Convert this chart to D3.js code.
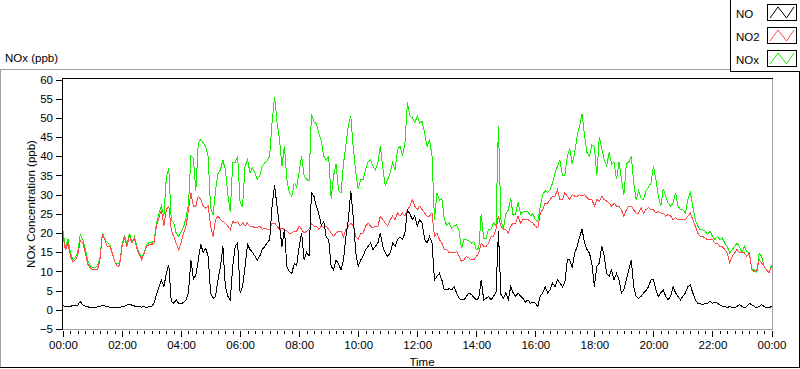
<!DOCTYPE html>
<html><head><meta charset="utf-8">
<script src="https://cdn.jsdelivr.net/npm/d3@7"></script>
<style>
html,body{margin:0;padding:0;background:#fff;}
svg{display:block;}
text{font-family:"Liberation Sans",Arial,sans-serif;font-size:11.5px;fill:#000;}
</style></head>
<body>
<svg id="chart" width="800" height="369"></svg>
<script>
// ---- data (5-minute samples, 00:00 to 24:00) ----
const stepMinutes = 5;
const seriesNames = ["NO", "NO2", "NOx"];
const seriesColors = ["#000000", "#ff4848", "#12f000"];
const yTicks = [-5,0,5,10,15,20,25,30,35,40,45,50,55,60];
const xTickMinutes = [0,120,240,360,480,600,720,840,960,1080,1200,1320,1440];
const xTickLabels = ["00:00","02:00","04:00","06:00","08:00","10:00","12:00","14:00","16:00","18:00","20:00","22:00","00:00"];

const NO2 = [
19,15.5,17.5,14,12.5,13,14,18,17.5,15,12,11,
10.4,10.5,10.4,13,19.5,18.3,16.5,16.5,14.8,12.6,11.3,11.5,
16.5,18.7,16.5,19.1,17.4,18.7,16,14.4,13,14.8,16.5,17,
17,17.4,21.8,23.9,26.1,21.8,26.1,27,20.9,19.1,17.4,15.7,
17.4,20,21.8,26,30.5,27,27,29.6,28.7,27,26.5,27,
21.8,19.1,23.5,24.4,23.5,23,22.6,21.8,20.9,23,22.6,23,
21.8,22.6,21.8,22.6,21.8,21.8,21.3,21.5,21.8,21,21.3,21,
20.9,22.6,22.6,21.8,20.9,21.3,20.9,20.5,20,20,20.5,20.5,
21.8,21,20,20.5,21,22.5,21.8,21.8,21,21.8,21.5,21.8,
21,20,19.1,20,20.5,20.5,19.1,20.9,21.8,22.6,21.8,19.1,
18.3,20,20,21.8,22.6,21.8,21.3,21.8,21.8,24.4,23.5,22.6,
21.8,23.5,24.4,23.5,25.2,24.4,25.2,24.4,26.1,27,28.7,27,
26.1,27,26.1,25.2,24.4,24.4,25.2,19.1,20,18.3,17.4,15.7,
15.7,14.8,14.8,14.8,15.2,13.9,12.6,13,13.9,13.5,13,13,
13.9,14.8,17.4,16.5,16.5,17.4,19.1,19.1,20.9,24.4,21.8,20.9,
20.9,20,21.8,22.6,22.6,24.4,22.6,23.5,23.5,23.5,23,22.6,
21.8,21.3,25.2,26.1,27.8,27.8,28.7,29.6,29.6,31.3,28.7,28.7,
30.5,29.6,28.7,30,29.6,29.6,30,29.6,30,29.2,28.7,28.7,
27,28.7,28.3,29.6,28.7,28.3,27.8,27,27.8,27,27,26,
24.4,26.1,27,27,26,25.2,25.2,26.6,25.2,26.1,26.6,26.1,
26.1,25.2,25.6,25.2,25.2,24.4,24.8,24.4,23.5,24,23.5,23.5,
23.5,23.5,24.4,25.2,23.5,21.8,20,19.1,19.1,18.7,18.3,18.3,
18.3,17.4,17.4,16.5,16.5,15.7,14.8,12.2,13.9,14.8,15.7,14.8,
14.8,14.8,13.9,14.8,10.4,10,10.4,13,12.2,11.3,10.4,9.6,11.3
];

const NOx = [
20.5,16,18.5,15,13,13.5,15,19.5,18.5,16,13,11.5,
11,11,11.5,13.5,20,18.5,17.5,17,15,12.5,12,12,
17,19.5,17,20,17.5,19,16.5,14.8,13.5,15,17,17.5,
17.4,18,22.6,25.2,27,24.4,34.4,36.9,23.5,22.6,20,19.1,
20.4,21.5,24,27.5,40,39.5,31,43.5,44.4,43.5,42.5,40,
26.6,24.7,31,35.5,36.5,39,36.5,30,25.6,38.5,38.5,40,
27.8,27,37.4,39.2,35.7,37,35.7,34,35,37.4,38.3,38.8,
40,49,55.5,49,44.4,37.4,42.6,34,30.5,29.6,33,32,
36,40,35,34,33.5,51,49,48.5,46,44,40,39,
40,29,35,38,31,30.5,38,43,48,50.5,42,36,
31.4,34,34,36.5,38.5,39,37.4,36.5,38.3,42.6,37,32.3,
34,35.7,38.3,36.5,41.8,42.6,40,43.5,54,50.5,50,48.7,
50.5,48.7,49,46,42.6,44.4,40,23.5,30.5,28.5,29,23.5,
22,22.6,21.3,21.8,22.2,20.5,16,18.3,18.3,18,17.4,17.8,
15.7,16,25,18.5,18.5,21,21,22.6,22,48,23.5,20.9,
25,26,29,24.5,25,28,25,25.5,25.5,25.5,24.5,25,
23.5,23,27,30,31,30.5,31.3,33,35.7,37.4,39,35,
35,40,42,38,41,45.3,48,51,45.5,41,40,43,
42.6,35,45,42,39,37.5,41,38,38.5,34,38.5,34,
30,38,38.5,40,33,28.7,31,29,28.7,31,32,33,
37.5,34,29.6,27,31.5,29.6,27.8,27,27.8,30.5,27,26.1,
26.1,25.2,28.7,30.5,27,23.5,21.8,20.9,20.9,20.5,19.6,20.5,
19.1,18.3,19.1,18.3,18.7,17.4,16.5,14.8,15.7,16.5,17.4,16.5,
14.8,16.5,15.2,14.8,10.4,10.4,9.6,14.8,13.9,11.3,10.4,9.6,11.7
];

const NO = [
1.2,0.8,1,0.9,1.1,1.0,1.2,2.2,1.3,1.0,0.8,0.6,
0.7,0.5,0.8,0.9,1.2,1.0,0.9,0.6,0.5,0.6,0.5,0.6,
0.8,0.9,1.2,1.5,1.2,1.0,0.8,0.9,0.7,0.8,0.6,0.8,
0.9,1.7,4,6,7.8,6,9.5,11.7,2.2,1.7,2.6,1.7,
1.5,2,2.5,4.5,13,8,9,13,17,15,16,14,
4.4,3,3.5,7.8,11.3,16.5,6,3.5,2.6,11.3,16.5,17.4,
4.4,6,11.3,17,15.7,15,14,13,14,15.7,16.5,17.4,
18.3,27,32.5,27,22,16.5,21,11.3,10,9.5,12,11.5,
16.5,20,13,15,14,30.5,29.6,27,25,22,23,19,
18.3,11.3,10.4,13,12,10.4,13,19,23.5,31,24,15,
11.3,13,14,15.7,16.5,17.4,15.7,16.5,17.4,20,16.5,14.8,
13.9,14.8,17.4,16.5,18.3,19,18.3,20,26.1,25,23.5,24.5,
21.8,23.5,22.6,18.3,17.4,19.1,17.4,7.8,8.7,9.5,7.8,5.2,
5.2,5.5,5.2,6,4.4,3,2.6,2.6,3.5,4.4,4,3.2,
2.6,3,7.8,2.6,3,3.5,2.6,3.5,4.4,20.4,4,3,
4.4,2.6,6,4.4,3.5,4.4,3.5,3,2,2.6,1.7,2,
1.7,0.9,3.5,4.4,6,4.4,5.2,7,6,7.8,7,6,
7,13,13,11,14.8,16.5,19,21,17.4,15.7,14.8,12,
6,11.3,12.2,16.5,14,9.5,8.7,10.4,7.8,9.5,7.8,4.4,
5.2,7.8,10.4,13,6,3.5,3,3.5,4.4,5,6,7.8,
7.8,5.2,3.5,4.4,5.2,3.5,2.6,3.5,6,4.4,3.5,2.6,
3.5,4.4,6,6.5,4.4,2.6,1.7,1.7,1.3,1.7,1.7,2.2,
1.7,2,1.7,1.3,0.9,0.9,0.5,0.9,0.5,0.5,0.9,1.3,
0.9,0.5,0.9,1.7,1.3,0.9,0.5,0.9,1.3,0.9,0.5,0.5,0.9
];

// ---- drawing ----
const svg = d3.select("#chart");
const x = d3.scaleLinear().domain([0, 1440]).range([63, 771.5]);
const y = d3.scaleLinear().domain([-5, 60]).range([329, 79.5]);

// outer panel (3D frame)
svg.append("line").attr("x1",0).attr("x2",730).attr("y1",69.5).attr("y2",69.5).attr("stroke","#a0a0a0");
svg.append("line").attr("x1",0.5).attr("x2",0.5).attr("y1",69.5).attr("y2",368).attr("stroke","#a0a0a0");
svg.append("line").attr("x1",0).attr("x2",800).attr("y1",367.5).attr("y2",367.5).attr("stroke","#000");
svg.append("line").attr("x1",799.5).attr("x2",799.5).attr("y1",0).attr("y2",368).attr("stroke","#000");

// top-left title
svg.append("text").attr("x",5).attr("y",62).text("NOx (ppb)");

// clip
svg.append("clipPath").attr("id","plotclip").append("rect")
  .attr("x",63).attr("y",79).attr("width",709).attr("height",250);

// series lines
const mk = vals => vals.map((v,i)=>({t:i*stepMinutes, v}));
const line = d3.line().x(d=>x(d.t)).y(d=>y(d.v));
const g = svg.append("g").attr("clip-path","url(#plotclip)");
const drawOrder = [[NOx, 2],[NO2, 1],[NO, 0]];
drawOrder.forEach(([vals, k])=>{
  g.append("path").datum(mk(vals)).attr("d", line)
    .attr("fill","none").attr("stroke", seriesColors[k]).attr("stroke-width",1)
    .attr("shape-rendering","crispEdges");
});

// plot frame
svg.append("line").attr("x1",62).attr("x2",773).attr("y1",78.5).attr("y2",78.5).attr("stroke","#000");
svg.append("line").attr("x1",62.5).attr("x2",62.5).attr("y1",78).attr("y2",330).attr("stroke","#000");
svg.append("line").attr("x1",772.5).attr("x2",772.5).attr("y1",79).attr("y2",330).attr("stroke","#a0a0a0");
svg.append("line").attr("x1",63).attr("x2",773).attr("y1",329.5).attr("y2",329.5).attr("stroke","#a0a0a0");

// y axis
const yAxis = d3.axisLeft(y).tickValues(yTicks).tickSize(6).tickPadding(3).tickFormat(d3.format("d"));
const ya = svg.append("g").attr("transform","translate(62,0)").call(yAxis);
ya.select(".domain").remove();
ya.selectAll("line").attr("stroke","#000").attr("shape-rendering","crispEdges");
ya.selectAll("text").attr("font-family",null).attr("font-size",null).attr("fill","#000");

// x axis minor
const minorTicks = d3.range(0, 1441, 15).filter(m=>m%120!==0);
const xMinor = d3.axisBottom(x).tickValues(minorTicks).tickSize(3).tickFormat("");
const xm = svg.append("g").attr("transform","translate(0,331)").call(xMinor);
xm.select(".domain").remove();
xm.selectAll("line").attr("stroke","#000").attr("shape-rendering","crispEdges");
// x axis major
const xAxis = d3.axisBottom(x).tickValues(xTickMinutes).tickSize(6).tickPadding(0)
  .tickFormat((d,i)=>xTickLabels[i]);
const xa = svg.append("g").attr("transform","translate(0,331)").call(xAxis);
xa.select(".domain").remove();
xa.selectAll("line").attr("stroke","#000").attr("shape-rendering","crispEdges");
xa.selectAll("text").attr("font-family",null).attr("font-size",null).attr("fill","#000")
  .attr("y",18).attr("dy",null);

// axis titles
svg.append("text").attr("x",422).attr("y",366).attr("text-anchor","middle").text("Time");
svg.append("text").attr("transform","translate(35,204) rotate(-90)").attr("text-anchor","middle")
  .text("NOx Concentration (ppb)");

// legend
const lg = svg.append("g");
lg.append("rect").attr("x",730.5).attr("y",-1).attr("width",70).attr("height",72.5)
  .attr("fill","#fff").attr("stroke","#000");
seriesNames.forEach((name,i)=>{
  const top = 4 + i*23;
  lg.append("text").attr("x",736).attr("y",top+14).text(name);
  lg.append("rect").attr("x",767.5).attr("y",top+0.5).attr("width",29).attr("height",16)
    .attr("fill","#fff").attr("stroke","#000");
  const pts = [[770,top+14],[778,top+3],[786.5,top+14],[794,top+3]];
  lg.append("path").attr("d", d3.line()(pts)).attr("fill","none")
    .attr("stroke", seriesColors[i]).attr("stroke-width",1);
});
</script>
</body></html>
